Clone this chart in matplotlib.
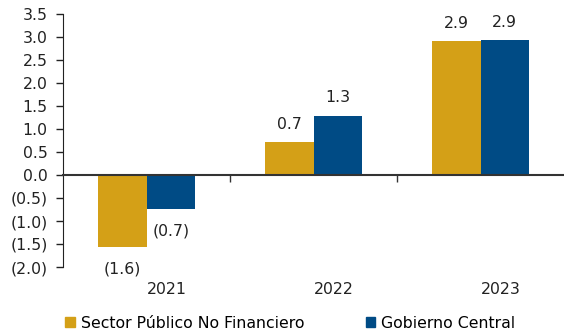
import matplotlib.pyplot as plt
import matplotlib.transforms as mtransforms
from matplotlib.patches import Patch
import numpy as np

years = ["2021", "2022", "2023"]
spnf = [-1.56, 0.71, 2.91]
gob_central = [-0.74, 1.29, 2.93]
series_names = ["Sector Público No Financiero", "Gobierno Central"]
colors = ["#D4A017", "#004B85"]
y_ticks = [3.5, 3.0, 2.5, 2.0, 1.5, 1.0, 0.5, 0.0, -0.5, -1.0, -1.5, -2.0]

plt.rcParams['font.family'] = ['DejaVu Sans']
fs = 11.3

def fmt(v):
    s = f"{abs(v):.1f}"
    return f"({s})" if v < 0 else s

fig = plt.figure(figsize=(5.64, 3.36), dpi=100)
ax = fig.add_axes([63 / 564, 1 - 267 / 336, 1 - 63 / 564, (267 - 14) / 336])

x = np.arange(len(years))
w = 0.29
b1 = ax.bar(x - w / 2, spnf, w, color=colors[0], linewidth=0)
b2 = ax.bar(x + w / 2, gob_central, w, color=colors[1], linewidth=0)

ax.set_xlim(-0.5, 2.5)
ax.set_ylim(-2.0, 3.5)
ax.set_yticks(y_ticks)
ax.set_yticklabels([fmt(v) for v in y_ticks], fontsize=fs, color="#222222")
ax.tick_params(axis="y", length=5, width=1, color="#222222", pad=6)

# category boundaries as small ticks on the zero line
ax.set_xticks([0.5, 1.5])
ax.set_xticklabels([])
ax.tick_params(axis="x", length=5, width=1, color="#333333")
ax.spines["bottom"].set_position(("data", 0))
ax.spines["bottom"].set_color("#333333")
ax.spines["bottom"].set_linewidth(1.5)
ax.spines["left"].set_color("#222222")
ax.spines["top"].set_visible(False)
ax.spines["right"].set_visible(False)

# year labels below the plot area
trans = mtransforms.blended_transform_factory(ax.transData, ax.transAxes)
for xi, yr in zip(x, years):
    ax.text(xi + 0.12, -0.09, yr, transform=trans, ha="center", va="center",
            fontsize=fs, color="#222222")

# value labels
for bars, vals in ((b1, spnf), (b2, gob_central)):
    for rect, v in zip(bars, vals):
        cx = rect.get_x() + rect.get_width() / 2
        off = 13 if v >= 0 else -16
        ax.annotate(fmt(v), (cx, v), xytext=(0, off), textcoords="offset points",
                    ha="center", va="center", fontsize=fs, color="#222222")

handles = [Patch(color=c, label=n) for c, n in zip(colors, series_names)]
fig.legend(handles=handles, loc="center left", bbox_to_anchor=(59 / 564, 1 - 323 / 336),
           ncol=2, frameon=False, fontsize=fs, handlelength=0.6, handleheight=0.6,
           handletextpad=0.4, columnspacing=3.9, borderaxespad=0)

fig.savefig("out.png", dpi=100)
